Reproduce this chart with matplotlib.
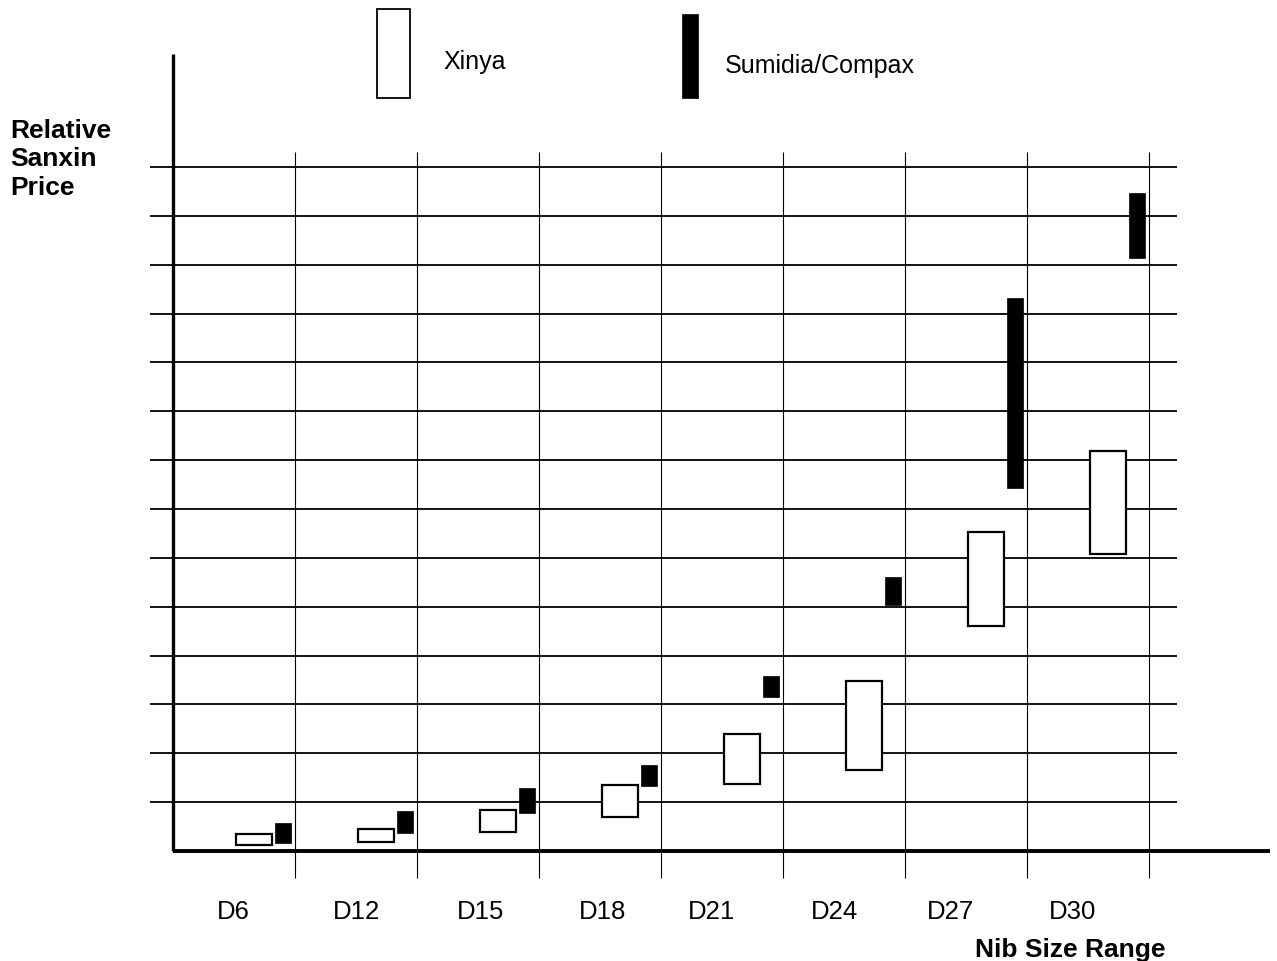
import matplotlib
matplotlib.use("Agg")
import matplotlib.pyplot as plt
from matplotlib.patches import Rectangle

plt.rcParams['font.family'] = ['Liberation Sans', 'DejaVu Sans']

# nib sizes and relative price ranges (one grid step = 1 unit)
sizes = ['D6', 'D12', 'D15', 'D18', 'D21', 'D24', 'D27', 'D30']
xinya_low = [0.12, 0.18, 0.39, 0.70, 1.37, 1.66, 4.60, 6.08]
xinya_high = [0.35, 0.45, 0.84, 1.35, 2.39, 3.48, 6.53, 8.19]
sumidia_low = [0.16, 0.37, 0.78, 1.33, 3.15, 5.03, 7.43, 12.14]
sumidia_high = [0.57, 0.82, 1.29, 1.76, 3.58, 5.61, 11.32, 13.47]
n_grid = 14

# label left edges (layout only, the original is not evenly spaced)
label_x = [0.361, 1.311, 2.328, 3.328, 4.221, 5.23, 6.18, 7.18]

# pixel -> data helpers: x unit 122 px from x=173, y unit 48.86 px from y=852
def px(x):
    return (x - 173) / 122.0

def py(y):
    return (852 - y) / 48.86

fig = plt.figure(figsize=(12.77, 9.62), dpi=100)
ax = fig.add_axes([0, 0, 1, 1])
ax.set_xlim(px(0), px(1277))
ax.set_ylim(py(962), py(0))
ax.axis('off')

# grid
for k in range(1, n_grid + 1):
    ax.plot([px(150), px(1177)], [k, k], color='black', lw=1.3, zorder=1,
            solid_capstyle='butt')
for k in range(1, len(sizes) + 1):
    ax.plot([k, k], [py(879), py(153)], color='black', lw=0.8, zorder=1,
            solid_capstyle='butt')

# axes lines
ax.plot([0, 0], [0, py(55)], color='black', lw=2.4, zorder=4,
        solid_capstyle='butt')
ax.plot([0, px(1270)], [0, 0], color='black', lw=2.8, zorder=4,
        solid_capstyle='butt')

pos = list(range(1, len(sizes) + 1))
xh = [p - 0.335 for p in pos]
sh = [p - 0.095 for p in pos]
ax.bar(xh, [h - l for h, l in zip(xinya_high, xinya_low)], bottom=xinya_low,
       width=0.295, facecolor='white', edgecolor='black', linewidth=1.6,
       zorder=3)
ax.bar(sh, [h - l for h, l in zip(sumidia_high, sumidia_low)], bottom=sumidia_low,
       width=0.13, facecolor='black', edgecolor='black', linewidth=0.5,
       zorder=3)

for x, s in zip(label_x, sizes):
    ax.text(x, py(919), s, fontsize=18.5, ha='left', va='baseline')

# legend
ax.add_patch(Rectangle((px(377), py(99)), px(410) - px(377), py(10) - py(99),
                       facecolor='white', edgecolor='black', lw=1.3, zorder=3))
ax.text(px(443), py(69), 'Xinya', fontsize=18, ha='left', va='baseline')
ax.add_patch(Rectangle((px(682), py(99)), px(698) - px(682), py(15) - py(99),
                       facecolor='black', edgecolor='black', lw=0.5, zorder=3))
ax.text(px(725), py(73), 'Sumidia/Compax', fontsize=18, ha='left', va='baseline')

# axis titles
for i, line in enumerate(['Relative', 'Sanxin', 'Price']):
    ax.text(px(10), py(138 + 28.5 * i), line, fontsize=19, fontweight='bold',
            ha='left', va='baseline')
ax.text(px(975), py(957), 'Nib Size Range', fontsize=19, fontweight='bold',
        ha='left', va='baseline')

fig.savefig('out.png', dpi=100)
